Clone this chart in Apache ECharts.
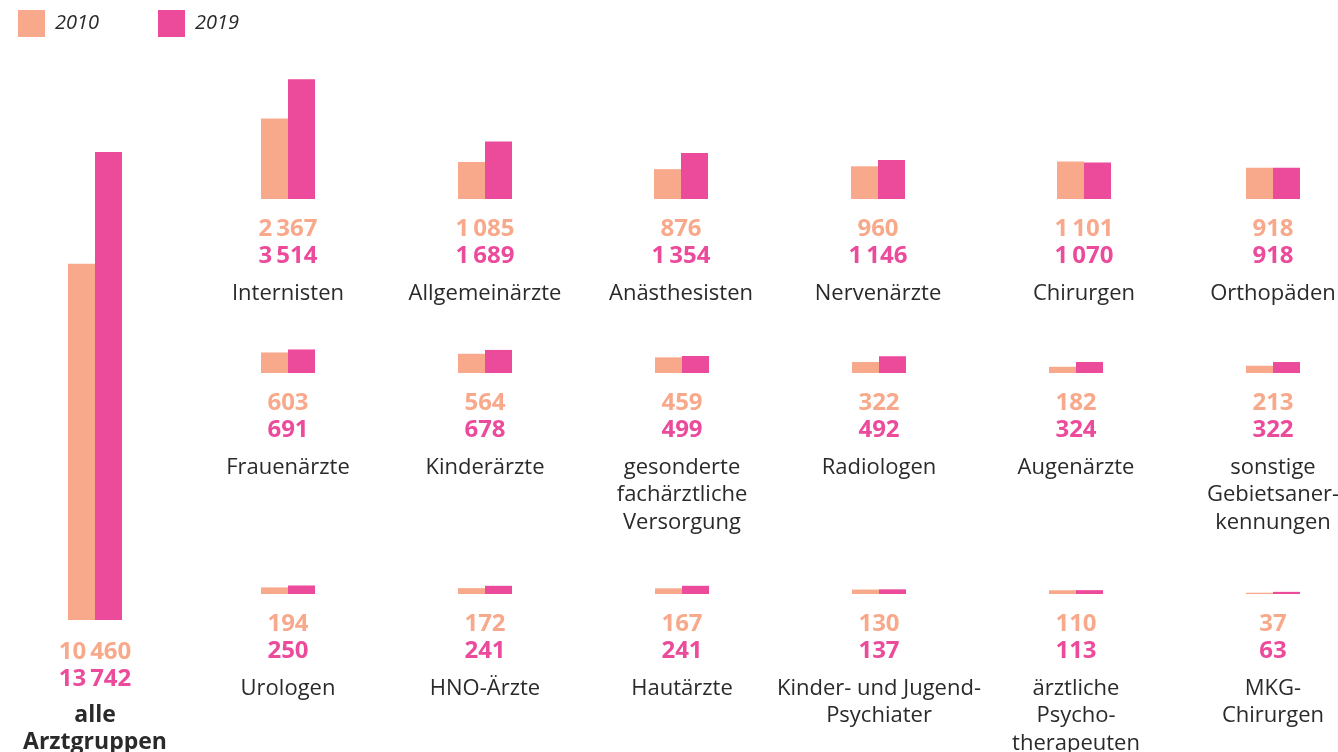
<!DOCTYPE html>
<html lang="de">
<head>
<meta charset="utf-8">
<title>Ärztinnen und Ärzte nach Arztgruppen, 2010 und 2019</title>
<script src="https://cdn.jsdelivr.net/npm/echarts@6/dist/echarts.min.js"></script>
<style>
  html, body { margin: 0; padding: 0; background: #ffffff; }
  #chart { width: 1338px; height: 752px; }
</style>
</head>
<body>
<div id="chart"></div>
<script>
// Arztgruppen (line breaks as set in the layout)
const categories = [
  'Internisten', 'Allgemeinärzte', 'Anästhesisten', 'Nervenärzte', 'Chirurgen', 'Orthopäden',
  'Frauenärzte', 'Kinderärzte', 'gesonderte\nfachärztliche\nVersorgung', 'Radiologen', 'Augenärzte', 'sonstige\nGebietsaner-\nkennungen',
  'Urologen', 'HNO-Ärzte', 'Hautärzte', 'Kinder- und Jugend-\nPsychiater', 'ärztliche\nPsycho-\ntherapeuten', 'MKG-\nChirurgen'
];
const values2010 = [2367, 1085, 876, 960, 1101, 918, 603, 564, 459, 322, 182, 213, 194, 172, 167, 130, 110, 37];
const values2019 = [3514, 1689, 1354, 1146, 1070, 918, 691, 678, 499, 492, 324, 322, 250, 241, 241, 137, 113, 63];

const totalLabel = 'alle\nArztgruppen';
const total2010 = 10460;
const total2019 = 13742;

const seriesNames = ['2010', '2019'];
const COLOR_2010 = '#F8A98B';
const COLOR_2019 = '#EC4A9B';
const TEXT = '#2a2a2a';
const FONT = '"Open Sans", "Noto Sans", sans-serif';

// common vertical scale: pixels per physician
const PX_PER_UNIT = 468 / 13742;

// panel layout: x = left edge of the 2019 bar, baseline = y of the bar foot
const colX = [
  [288, 485, 681, 878, 1084, 1273],
  [288, 485, 682, 879, 1076, 1273],
  [288, 485, 682, 879, 1076, 1273]
];
const rowBase = [199, 373, 594];

function fmt(n) {
  const s = String(n);
  return s.length > 3 ? s.slice(0, s.length - 3) + '\u2009' + s.slice(-3) : s;
}

const grids = [], xAxes = [], yAxes = [], series = [];

function addPanel(center, baseline, axisMax, label, v2010, v2019, bold) {
  const idx = grids.length;
  const h = axisMax * PX_PER_UNIT;
  grids.push({ left: center - 40, width: 80, top: baseline - h, height: h, outerBoundsMode: 'none' });
  const nameText = label.split('\n').map(l => '{n|' + l + '}').join('\n');
  const weight = bold ? 'bold' : 'normal';
  xAxes.push({
    gridIndex: idx,
    type: 'category',
    data: [label],
    axisLine: { show: false },
    axisTick: { show: false },
    axisLabel: {
      interval: 0,
      hideOverlap: false,
      margin: bold ? 18.5 : 16.5,
      offset: bold ? -1.5 : 0,
      formatter: () => '{v1|' + fmt(v2010) + '}\n{v2|' + fmt(v2019) + '}\n{s| }\n' + nameText,
      rich: {
        v1: { fontFamily: FONT, fontSize: 24, fontWeight: 'bold', color: COLOR_2010, lineHeight: 27, align: 'center' },
        v2: { fontFamily: FONT, fontSize: 24, fontWeight: 'bold', color: COLOR_2019, lineHeight: 27, align: 'center' },
        s: { fontFamily: FONT, fontSize: 8, lineHeight: 10, align: 'center' },
        n: { fontFamily: FONT, fontSize: bold ? 23 : 22, fontWeight: weight, color: TEXT, lineHeight: bold ? 26.5 : 27.5, align: 'center' }
      }
    }
  });
  yAxes.push({ gridIndex: idx, type: 'value', min: 0, max: axisMax, show: false, splitLine: { show: false } });
  [[seriesNames[0], v2010, COLOR_2010], [seriesNames[1], v2019, COLOR_2019]].forEach(([name, v, c]) => {
    series.push({
      name: name,
      type: 'bar',
      xAxisIndex: idx,
      yAxisIndex: idx,
      data: [v],
      barWidth: 27,
      barGap: '0%',
      itemStyle: { color: c },
      silent: true
    });
  });
}

// overall total panel
addPanel(95, 620, 14000, totalLabel, total2010, total2019, true);

// 6 x 3 small multiples
categories.forEach((cat, i) => {
  const r = Math.floor(i / 6), c = i % 6;
  addPanel(colX[r][c], rowBase[r], 3600, cat, values2010[i], values2019[i], false);
});

const legendBase = {
  top: 10,
  itemWidth: 27,
  itemHeight: 27,
  icon: 'rect',
  padding: 0,
  textStyle: { fontFamily: FONT, fontSize: 20, fontStyle: 'italic', color: TEXT, padding: [2, 0, 0, 5] }
};

const chart = echarts.init(document.getElementById('chart'), null, { renderer: 'canvas' });
chart.setOption({
  animation: false,
  backgroundColor: '#ffffff',
  legend: [
    Object.assign({}, legendBase, { left: 18, data: [seriesNames[0]] }),
    Object.assign({}, legendBase, { left: 158, data: [seriesNames[1]] })
  ],
  grid: grids,
  xAxis: xAxes,
  yAxis: yAxes,
  series: series
});
</script>
</body>
</html>
